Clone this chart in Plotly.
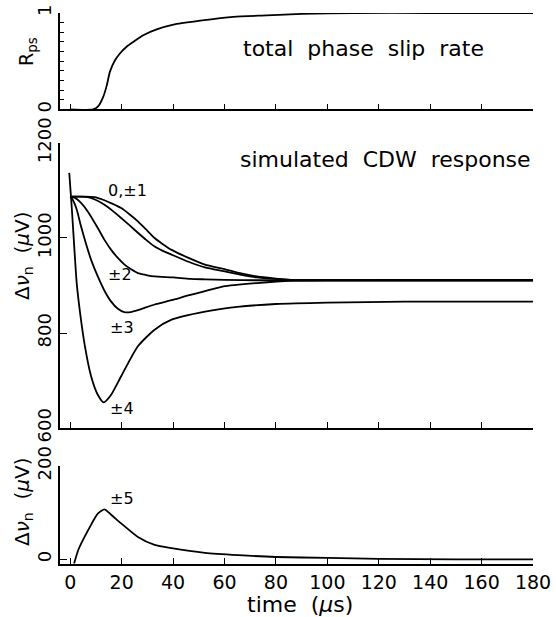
import plotly.graph_objects as go

# ---------------- data ----------------
# total phase slip rate
t_rps = [0, 8.9, 10.9, 12.8, 14.2, 15.4, 17.4, 19.3, 21.9, 24.5, 28.4, 33.6, 40.1, 50.5, 63.4, 76.4, 90, 110, 140, 180]
rps   = [0, 0.0, 0.034, 0.13, 0.25, 0.39, 0.51, 0.58, 0.65, 0.70, 0.77, 0.83, 0.88, 0.92, 0.96, 0.975, 0.99, 1.0, 1.0, 1.0]

# simulated CDW response (uV)
t_m0a = [0, 5, 9.4, 13, 16, 19.8, 23, 26.3, 29.5, 32.8, 36, 39.4, 46, 52.4, 59.6, 66, 72.6, 79, 85.7, 95, 120, 180]
v_m0a = [1087, 1087, 1086, 1080, 1073, 1063, 1050, 1035, 1018, 1000, 987, 975, 958, 944, 935, 926, 919, 915, 912, 911, 911, 911]

t_m0b = [0, 4, 6.8, 10, 13.3, 16.5, 19.8, 23, 26.3, 29.5, 32.8, 36, 39.4, 46, 52.4, 59.6, 66, 72.6, 85.7, 95, 120, 180]
v_m0b = [1087, 1087, 1086, 1080, 1070, 1057, 1042, 1027, 1011, 996, 982, 973, 965, 950, 938, 930, 923, 917, 912, 911, 911, 911]

t_m2 = [0, 2, 4, 6.8, 10.7, 13.3, 15.9, 18.5, 21.1, 23.7, 26.3, 29.5, 32.8, 40, 46.6, 52.4, 60, 72.6, 100, 180]
v_m2 = [1087, 1084, 1075, 1056, 1021, 996, 975, 958, 944, 934, 926, 922, 919, 917, 914, 913, 912, 911, 911, 911]

t_m3 = [0, 1, 2.5, 4.2, 6, 8.1, 10.7, 13.3, 15.9, 18.5, 21, 23.5, 26.3, 32.8, 39.4, 45.9, 52.4, 59.6, 72.6, 85.7, 100, 180]
v_m3 = [1087, 1080, 1060, 1024, 990, 954, 919, 889, 866, 851, 844, 844, 848, 860, 869, 879, 888, 898, 905, 910, 911, 911]

t_m4 = [-0.4, 0.5, 1.5, 2.5, 3.8, 5.7, 8.1, 10.7, 13, 15.9, 19.8, 26.3, 32.8, 39.4, 52.4, 65, 80, 100, 130, 180]
v_m4 = [1137, 1070, 985, 905, 843, 772, 709, 670, 654, 670, 709, 772, 807, 828, 845, 855, 861, 864, 866, 866]

# +-5 harmonic (uV)
t_m5 = [1.5, 3.1, 7, 10.7, 13.3, 16, 19.8, 26.3, 32.8, 39.4, 52.4, 65.4, 80, 100, 120, 150, 180]
v_m5 = [-9, 20, 63, 98, 107, 95, 77, 48, 31, 24, 14, 9, 5, 3, 1, 0, 0]

x_ticks = [0, 20, 40, 60, 80, 100, 120, 140, 160, 180]
y1_ticks = [0, 1]
y2_ticks = [600, 800, 1000, 1200]
y3_ticks = [0, 200]

# ---------------- figure ----------------
FONT = "DejaVu Sans"
line = dict(color="black", width=1.8, shape="spline", smoothing=0.6)

fig = go.Figure()
fig.add_trace(go.Scatter(x=t_rps, y=rps, mode="lines", line=line, xaxis="x", yaxis="y"))
for tt, vv in [(t_m0a, v_m0a), (t_m0b, v_m0b), (t_m2, v_m2), (t_m3, v_m3), (t_m4, v_m4)]:
    fig.add_trace(go.Scatter(x=tt, y=vv, mode="lines", line=line, xaxis="x2", yaxis="y2"))
fig.add_trace(go.Scatter(x=t_m5, y=v_m5, mode="lines", line=line, xaxis="x3", yaxis="y3"))

def xax(anchor, labels):
    return dict(domain=[0, 1], anchor=anchor, range=[-4, 180], tickvals=x_ticks,
                ticks="inside", ticklen=6, tickwidth=1.2, tickcolor="black",
                showline=True, linewidth=1.5, linecolor="black", automargin=False,
                showgrid=False, zeroline=False, showticklabels=labels,
                tickfont=dict(family=FONT, size=19, color="black"))

def yax(anchor, dom, rng, tv, minor=None):
    d = dict(domain=dom, anchor=anchor, range=rng, tickvals=tv,
             ticks="inside", ticklen=7, tickwidth=1.2, tickcolor="black",
             showline=True, linewidth=1.5, linecolor="black", automargin=False,
             showgrid=False, zeroline=False, tickangle=-90,
             tickfont=dict(family=FONT, size=18, color="black"))
    if minor:
        d["minor"] = minor
    return d

fig.update_layout(
    template="none",
    width=556, height=617,
    margin=dict(l=60, r=23, t=13, b=53, autoexpand=False),
    paper_bgcolor="white", plot_bgcolor="white",
    showlegend=False,
    font=dict(family=FONT, color="black"),
    xaxis=xax("y", False),
    xaxis2=xax("y2", False),
    xaxis3=xax("y3", True),
    yaxis=yax("x", [0.8249, 1.0], [0, 1], y1_ticks,
              minor=dict(dtick=0.1, ticks="inside", ticklen=4, tickwidth=1, tickcolor="black", showgrid=False)),
    yaxis2=yax("x2", [0.2468, 0.7641], [600, 1200], y2_ticks),
    yaxis3=yax("x3", [0.0, 0.1779], [-10, 200], y3_ticks),
)

ann = []
def A(text, x, y, size=18, xanchor="center", angle=0):
    ann.append(dict(text=text, x=x, y=y, xref="paper", yref="paper", showarrow=False,
                    xanchor=xanchor, yanchor="middle", textangle=angle,
                    font=dict(family=FONT, size=size, color="black")))

def px(x):
    return (x - 60) / 473

def py(y):
    return (564 - y) / 551

A("total  phase  slip  rate", px(486), py(48), size=22, xanchor="right")
A("simulated  CDW  response", px(533), py(160), size=22, xanchor="right")
A("0,±1", px(127), py(190), size=16)
A("±2", px(120), py(274), size=16)
A("±3", px(122), py(327), size=16)
A("±4", px(122), py(408), size=16)
A("±5", px(122), py(499), size=16)
A("R<sub>ps</sub>", px(27), py(52), size=19, angle=-90)
A("Δ<i>ν</i><sub>n</sub>  (<i>μ</i>V)", px(23), py(256), size=20, angle=-90)
A("Δ<i>ν</i><sub>n</sub>  (<i>μ</i>V)", px(23), py(502), size=20, angle=-90)
A("time  (<i>μ</i>s)", px(300), py(604), size=22)
fig.update_layout(annotations=ann)

fig.write_html("out.html")
